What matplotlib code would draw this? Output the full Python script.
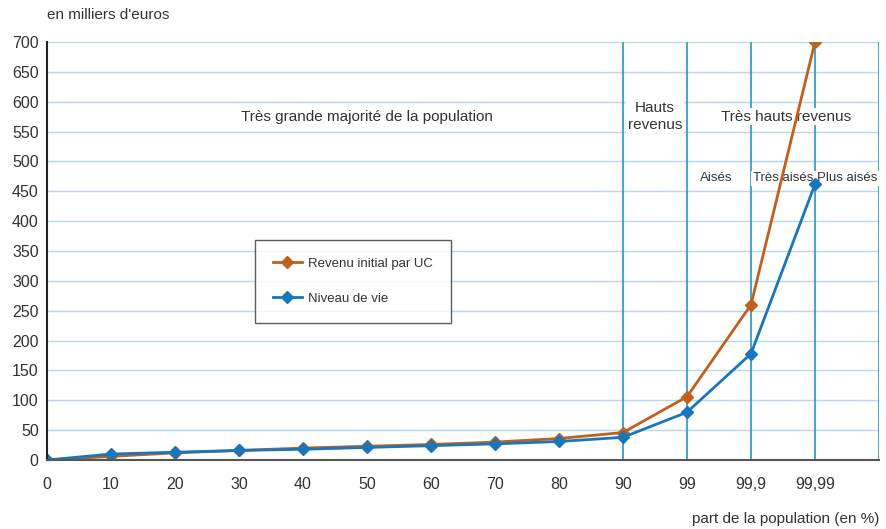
import matplotlib
matplotlib.use("Agg")
import matplotlib.pyplot as plt

plt.rcParams['font.family'] = ['Liberation Sans', 'DejaVu Sans']

# ----- Data -----
categories = ["0", "10", "20", "30", "40", "50", "60", "70", "80", "90", "99", "99,9", "99,99"]
revenu_initial = [0, 6, 12, 16, 20, 23, 26, 30, 36, 46, 106, 260, 700]
niveau_de_vie = [0, 10, 13, 16, 18, 21, 24, 27, 31, 38, 80, 178, 462]
yticks = list(range(0, 701, 50))

ORANGE = "#c0601e"
BLUE = "#1a76ba"
GRID_H = "#b3d9ec"
GRID_V = "#3a9cc2"
TXT = "#333333"

fig = plt.figure(figsize=(8.87, 5.29), dpi=100)
ax = fig.add_axes([47 / 887, 69 / 529, 832 / 887, 418 / 529])

x = list(range(len(categories)))
ax.set_xlim(0, len(categories))
ax.set_ylim(0, 700)

# grid
for y in yticks[1:]:
    ax.axhline(y, color=GRID_H, lw=1.0, zorder=0)
for xi in range(9, len(categories) + 1):
    ax.axvline(xi, color=GRID_V, lw=1.3, zorder=1)

ax.plot(x, revenu_initial, color=ORANGE, lw=2, marker="D", ms=6, zorder=3,
        label="Revenu initial par UC")
ax.plot(x, niveau_de_vie, color=BLUE, lw=2, marker="D", ms=6, zorder=4,
        label="Niveau de vie")

ax.set_xticks(x)
ax.set_xticklabels(categories)
ax.set_yticks(yticks)
ax.tick_params(axis="both", length=0, labelsize=11.5, colors=TXT)
ax.tick_params(axis="x", pad=12)
ax.tick_params(axis="y", pad=6)

for s in ["top", "right"]:
    ax.spines[s].set_visible(False)
ax.spines["left"].set_color("#222222")
ax.spines["left"].set_linewidth(1.5)
ax.spines["bottom"].set_color("#555555")
ax.spines["bottom"].set_linewidth(1.5)
ax.spines["left"].set_zorder(5)
ax.spines["bottom"].set_zorder(5)

box = dict(facecolor="white", edgecolor="none", pad=1)
fs = 11
ax.text(5.0, 575, "Très grande majorité de la population", ha="center", va="center",
        fontsize=fs, color=TXT, zorder=2)
ax.text(9.5, 575, "Hauts\nrevenus", ha="center", va="center", fontsize=fs,
        color=TXT, bbox=box, zorder=2, linespacing=1.25)
ax.text(11.55, 575, "Très hauts revenus", ha="center", va="center", fontsize=fs,
        color=TXT, bbox=box, zorder=2)
ax.text(10.45, 472, "Aisés", ha="center", va="center", fontsize=9.5, color=TXT,
        bbox=box, zorder=2)
ax.text(11.5, 472, "Très aisés", ha="center", va="center", fontsize=9.5, color=TXT,
        bbox=box, zorder=2)
ax.text(12.5, 472, "Plus aisés", ha="center", va="center", fontsize=9.5, color=TXT,
        bbox=box, zorder=2)

leg = ax.legend(loc="upper left", bbox_to_anchor=(208 / 832, (460 - 240) / 418),
                frameon=True, fancybox=False, fontsize=9.5, handlelength=2.2,
                handletextpad=0.5, borderpad=1.35, labelspacing=1.7,
                borderaxespad=0)
leg.get_frame().set_edgecolor("#333333")
leg.get_frame().set_linewidth(1.0)
for t in leg.get_texts():
    t.set_color(TXT)

fig.text(47 / 887, 1 - 15 / 529, "en milliers d'euros", ha="left", va="center",
         fontsize=11, color=TXT)
fig.text(879 / 887, 1 - 519 / 529, "part de la population (en %)", ha="right",
         va="center", fontsize=11, color=TXT)

fig.savefig("out.png", dpi=100)
